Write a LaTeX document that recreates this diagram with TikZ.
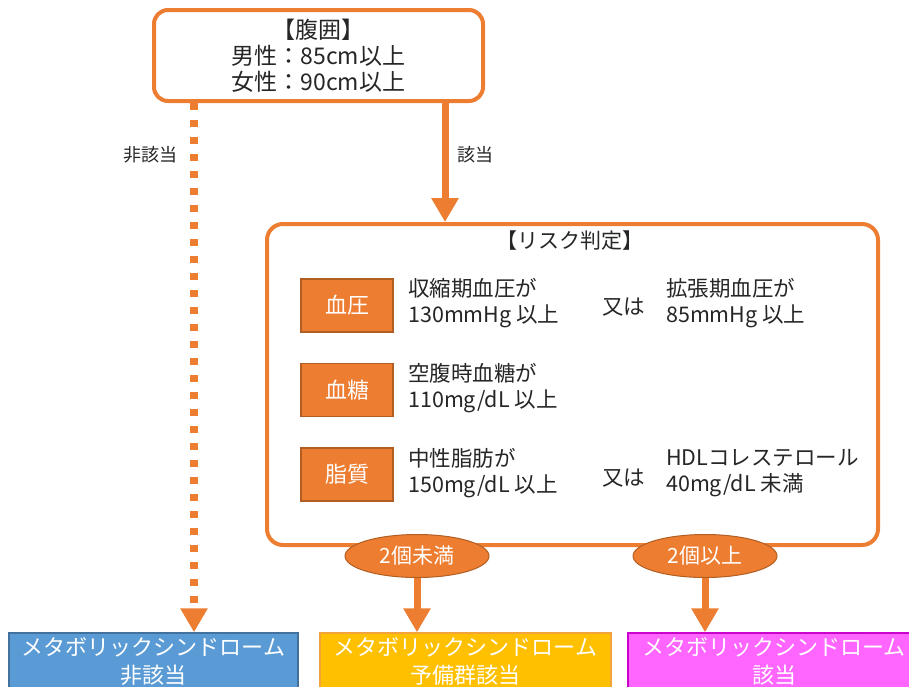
\documentclass[tikz,border=0pt]{standalone}
\usepackage{fontspec}
\setmainfont{Noto Sans CJK JP}
\usetikzlibrary{positioning,shapes,arrows.meta}

\definecolor{orng}{HTML}{ED7D31}
\definecolor{orngdark}{HTML}{B25E23}
\definecolor{txtgray}{HTML}{262626}
\definecolor{bluebox}{HTML}{5B9BD5}
\definecolor{blueline}{HTML}{41719C}
\definecolor{yellowbox}{HTML}{FFC000}
\definecolor{yellowline}{HTML}{F2A33A}
\definecolor{pinkbox}{HTML}{FF66FF}
\definecolor{pinkline}{HTML}{CC00CC}

\tikzset{
  roundbox/.style={rectangle, rounded corners=14pt, draw=orng, line width=4pt, fill=white, text=txtgray},
  itembox/.style={rectangle, draw=orngdark, line width=1.5pt, fill=orng, text=white, minimum width=92pt, minimum height=53pt, font=\fontsize{22}{26}\selectfont},
  cond/.style={align=left, anchor=west, inner sep=0pt, text=txtgray, font=\fontsize{21.5}{26}\selectfont},
  countoval/.style={ellipse, draw=orngdark, line width=1pt, fill=orng, text=white, minimum width=144pt, minimum height=43pt, inner sep=0pt, font=\fontsize{21}{25}\selectfont},
  resultbox/.style={rectangle, line width=1.5pt, text=white, minimum height=56pt, align=center, font=\fontsize{22}{28}\selectfont},
  flowarrow/.style={draw=orng, line width=7pt, -{Triangle[length=24pt, width=26pt]}},
  dotarrow/.style={flowarrow, line width=8pt, dash pattern=on 7pt off 10pt},
  branchlabel/.style={text=txtgray, font=\fontsize{18}{20}\selectfont},
}

\begin{document}
\begin{tikzpicture}[x=1pt, y=-1pt]
      %\draw[help lines] (0, 0) grid (909, 686);
      \clip (0, 0) rectangle (909, 686);

      \node [roundbox, minimum width=329pt, minimum height=91pt, align=center, font=\fontsize{23}{26}\selectfont] (fukui) at (318.5, 55.5) {【腹囲】\\男性：85cm以上\\女性：90cm以上};

      \node [roundbox, rounded corners=16pt, minimum width=611pt, minimum height=321pt] (risk) at (572.5, 384.5) {};
      \node [text=txtgray, font=\fontsize{21}{25}\selectfont] (risktitle) at (570, 241) {【リスク判定】};

      % 血圧
      \node [itembox] (ketsuatsu) at (347, 305.5) {血圧};
      \node [cond] (atsu1) at (408, 303) {収縮期血圧が\\130mmHg 以上};
      \node [cond] (mata1) at (602, 307) {又は};
      \node [cond] (atsu2) at (666, 303) {拡張期血圧が\\85mmHg 以上};

      % 血糖
      \node [itembox] (kettou) at (347, 390) {血糖};
      \node [cond] (tou1) at (408, 388) {空腹時血糖が\\110mg/dL 以上};

      % 脂質
      \node [itembox] (shishitsu) at (347, 474.5) {脂質};
      \node [cond] (shi1) at (408, 473) {中性脂肪が\\150mg/dL 以上};
      \node [cond] (mata2) at (602, 478) {又は};
      \node [cond] (shi2) at (666, 473) {HDLコレステロール\\40mg/dL 未満};

      \node [resultbox, fill=bluebox, draw=blueline, minimum width=289pt] (higaitou) at (153.5, 661) {メタボリックシンドローム\\非該当};
      \node [resultbox, fill=yellowbox, draw=yellowline, minimum width=291pt] (yobi) at (465.5, 661) {メタボリックシンドローム\\予備群該当};
      \node [resultbox, fill=pinkbox, draw=pinkline, minimum width=292pt] (gaitou) at (774, 661) {メタボリックシンドローム\\該当};

      \draw [dotarrow] ([xshift=-124.5pt]fukui.south) -- ([xshift=40.5pt]higaitou.north);
      \node [branchlabel] (lblhi) at (150, 155) {非該当};
      \draw [flowarrow] ([xshift=126.5pt]fukui.south) -- ([xshift=-127.5pt]risk.north);
      \node [branchlabel] (lblgai) at (475, 155) {該当};

      \node [countoval] (miman) at (417, 556) {2個未満};
      \node [countoval] (ijou) at (705, 556) {2個以上};
      \draw [flowarrow] (miman.south) -- ([xshift=-48.5pt]yobi.north);
      \draw [flowarrow] (ijou.south) -- ([xshift=-69pt]gaitou.north);

\end{tikzpicture}
\end{document}
